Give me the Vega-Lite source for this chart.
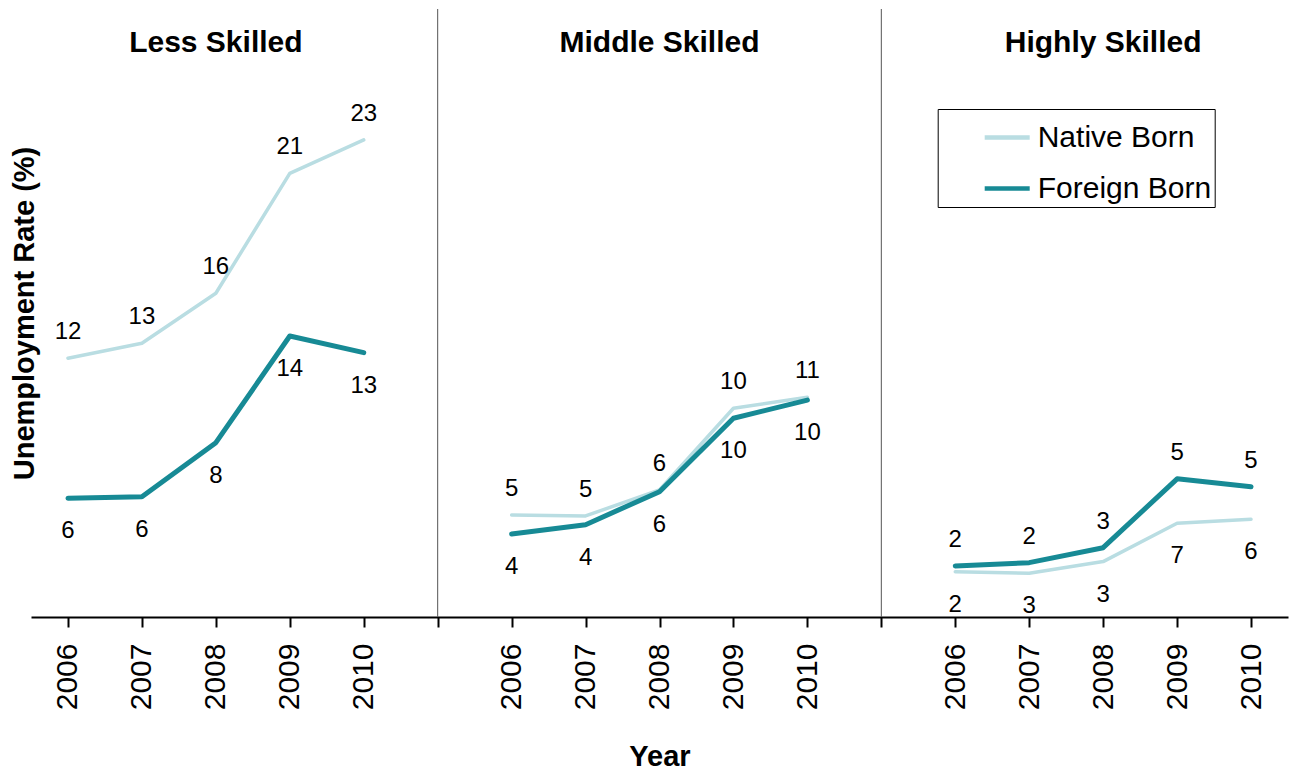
{
  "$schema": "https://vega.github.io/schema/vega-lite/v6.json",
  "width": 1257,
  "height": 608,
  "autosize": {"type": "none"},
  "padding": {"left": 31, "top": 9, "right": 6, "bottom": 155},
  "config": {
    "font": "Liberation Sans",
    "view": {"stroke": null}
  },
  "datasets": {
    "rates": [
      {"skill": "Less Skilled", "slot": "L2006", "born": "Native Born", "rate": 12.47},
      {"skill": "Less Skilled", "slot": "L2007", "born": "Native Born", "rate": 13.19},
      {"skill": "Less Skilled", "slot": "L2008", "born": "Native Born", "rate": 15.6},
      {"skill": "Less Skilled", "slot": "L2009", "born": "Native Born", "rate": 21.38},
      {"skill": "Less Skilled", "slot": "L2010", "born": "Native Born", "rate": 22.99},
      {"skill": "Middle Skilled", "slot": "M2006", "born": "Native Born", "rate": 4.92},
      {"skill": "Middle Skilled", "slot": "M2007", "born": "Native Born", "rate": 4.87},
      {"skill": "Middle Skilled", "slot": "M2008", "born": "Native Born", "rate": 6.12},
      {"skill": "Middle Skilled", "slot": "M2009", "born": "Native Born", "rate": 10.06},
      {"skill": "Middle Skilled", "slot": "M2010", "born": "Native Born", "rate": 10.59},
      {"skill": "Highly Skilled", "slot": "H2006", "born": "Native Born", "rate": 2.18},
      {"skill": "Highly Skilled", "slot": "H2007", "born": "Native Born", "rate": 2.11},
      {"skill": "Highly Skilled", "slot": "H2008", "born": "Native Born", "rate": 2.67},
      {"skill": "Highly Skilled", "slot": "H2009", "born": "Native Born", "rate": 4.52},
      {"skill": "Highly Skilled", "slot": "H2010", "born": "Native Born", "rate": 4.71},
      {"skill": "Less Skilled", "slot": "L2006", "born": "Foreign Born", "rate": 5.72},
      {"skill": "Less Skilled", "slot": "L2007", "born": "Foreign Born", "rate": 5.8},
      {"skill": "Less Skilled", "slot": "L2008", "born": "Foreign Born", "rate": 8.4},
      {"skill": "Less Skilled", "slot": "L2009", "born": "Foreign Born", "rate": 13.54},
      {"skill": "Less Skilled", "slot": "L2010", "born": "Foreign Born", "rate": 12.74},
      {"skill": "Middle Skilled", "slot": "M2006", "born": "Foreign Born", "rate": 4.0},
      {"skill": "Middle Skilled", "slot": "M2007", "born": "Foreign Born", "rate": 4.45},
      {"skill": "Middle Skilled", "slot": "M2008", "born": "Foreign Born", "rate": 6.04},
      {"skill": "Middle Skilled", "slot": "M2009", "born": "Foreign Born", "rate": 9.58},
      {"skill": "Middle Skilled", "slot": "M2010", "born": "Foreign Born", "rate": 10.45},
      {"skill": "Highly Skilled", "slot": "H2006", "born": "Foreign Born", "rate": 2.46},
      {"skill": "Highly Skilled", "slot": "H2007", "born": "Foreign Born", "rate": 2.62},
      {"skill": "Highly Skilled", "slot": "H2008", "born": "Foreign Born", "rate": 3.34},
      {"skill": "Highly Skilled", "slot": "H2009", "born": "Foreign Born", "rate": 6.66},
      {"skill": "Highly Skilled", "slot": "H2010", "born": "Foreign Born", "rate": 6.28}
    ],
    "panels": [
      {"skill": "Less Skilled", "slot": "L2008"},
      {"skill": "Middle Skilled", "slot": "M2008"},
      {"skill": "Highly Skilled", "slot": "H2008"}
    ],
    "gaps": [
      {"slot": "gap1"},
      {"slot": "gap2"}
    ]
  },
  "data": {"name": "rates"},
  "layer": [
    {
      "data": {"name": "gaps"},
      "mark": {"type": "rule", "color": "#555555", "strokeWidth": 1},
      "encoding": {
        "x": {
          "field": "slot", "type": "ordinal",
          "scale": {"type": "point", "padding": 0.5,
            "domain": ["L2006", "L2007", "L2008", "L2009", "L2010", "gap1", "M2006", "M2007", "M2008", "M2009", "M2010", "gap2", "H2006", "H2007", "H2008", "H2009", "H2010"]}
        }
      }
    },
    {
      "transform": [{"filter": "datum.born === 'Native Born'"}],
      "mark": {"type": "line", "strokeCap": "round", "strokeJoin": "round", "strokeWidth": 3.5},
      "encoding": {
        "x": {
          "field": "slot", "type": "ordinal",
          "scale": {"type": "point", "padding": 0.5,
            "domain": ["L2006", "L2007", "L2008", "L2009", "L2010", "gap1", "M2006", "M2007", "M2008", "M2009", "M2010", "gap2", "H2006", "H2007", "H2008", "H2009", "H2010"]},
          "axis": {
            "title": "Year",
            "titleFontSize": 29,
            "titleFontWeight": "bold",
            "titleColor": "black",
            "titlePadding": 33,
            "labelAngle": 270,
            "labelFontSize": 30,
            "labelColor": "black",
            "labelPadding": 16,
            "labelExpr": "length(datum.value) == 5 ? substring(datum.value, 1) : ''",
            "tickSize": 10,
            "tickWidth": 2,
            "tickColor": "black",
            "domainColor": "black",
            "domainWidth": 2,
            "grid": false
          }
        },
        "y": {
          "field": "rate", "type": "quantitative",
          "scale": {"domain": [0, 29.3], "nice": false},
          "axis": {
            "title": "Unemployment Rate (%)",
            "labels": false,
            "ticks": false,
            "domain": false,
            "grid": false,
            "titleFontSize": 29,
            "titleFontWeight": "bold",
            "titleColor": "black",
            "titlePadding": -8
          }
        },
        "color": {
          "field": "born", "type": "nominal",
          "scale": {"domain": ["Native Born", "Foreign Born"], "range": ["#b9dde2", "#178a95"]},
          "legend": {
            "orient": "none",
            "legendX": 906.7,
            "legendY": 100,
            "title": null,
            "labelFontSize": 30,
            "labelColor": "black",
            "labelLimit": 400,
            "symbolType": "stroke",
            "symbolSize": 2025,
            "symbolStrokeWidth": 4.5,
            "symbolOffset": 41,
            "labelOffset": 5.5,
            "rowPadding": 11,
            "padding": 3.5,
            "strokeColor": "black",
            "fillColor": "white",
            "labelExpr": "datum.label + '     '"
          }
        },
        "detail": {"field": "skill", "type": "nominal"}
      }
    },
    {
      "transform": [{"filter": "datum.born === 'Foreign Born'"}],
      "mark": {"type": "line", "strokeCap": "round", "strokeJoin": "round", "strokeWidth": 5},
      "encoding": {
        "x": {"field": "slot", "type": "ordinal"},
        "y": {"field": "rate", "type": "quantitative"},
        "color": {"field": "born", "type": "nominal"},
        "detail": {"field": "skill", "type": "nominal"}
      }
    },
    {
      "transform": [
        {"joinaggregate": [{"op": "max", "field": "rate", "as": "upper"}, {"op": "min", "field": "rate", "as": "lower"}], "groupby": ["slot"]},
        {"filter": "datum.born === 'Native Born'"}
      ],
      "mark": {"type": "text", "baseline": "alphabetic", "dy": -19, "fontSize": 24, "color": "black"},
      "encoding": {
        "x": {"field": "slot", "type": "ordinal"},
        "y": {"field": "upper", "type": "quantitative"},
        "text": {"field": "rate", "type": "quantitative", "format": ".0f"}
      }
    },
    {
      "transform": [
        {"joinaggregate": [{"op": "max", "field": "rate", "as": "upper"}, {"op": "min", "field": "rate", "as": "lower"}], "groupby": ["slot"]},
        {"filter": "datum.born === 'Foreign Born'"}
      ],
      "mark": {"type": "text", "baseline": "alphabetic", "dy": 40, "fontSize": 24, "color": "black"},
      "encoding": {
        "x": {"field": "slot", "type": "ordinal"},
        "y": {"field": "lower", "type": "quantitative"},
        "text": {"field": "rate", "type": "quantitative", "format": ".0f"}
      }
    },
    {
      "data": {"name": "panels"},
      "mark": {"type": "text", "baseline": "alphabetic", "fontSize": 30, "fontWeight": "bold", "color": "black"},
      "encoding": {
        "x": {"field": "slot", "type": "ordinal"},
        "y": {"datum": 27.24, "type": "quantitative"},
        "text": {"field": "skill", "type": "nominal"}
      }
    }
  ]
}
